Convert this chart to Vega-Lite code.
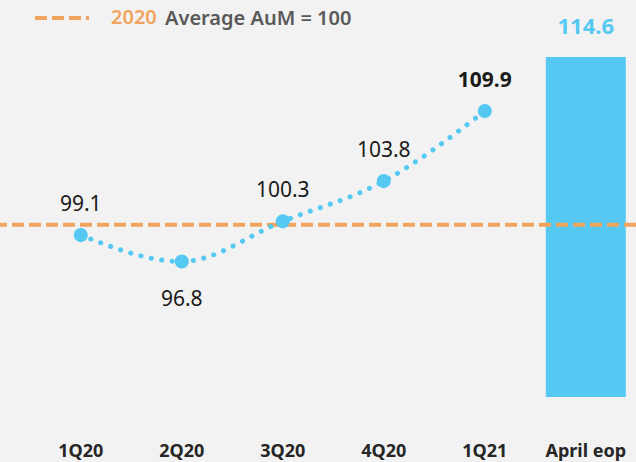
{
  "$schema": "https://vega.github.io/schema/vega-lite/v6.json",
  "width": 636,
  "height": 420,
  "autosize": {"type": "none"},
  "padding": {"left": 0, "top": 0, "right": 0, "bottom": 42},
  "background": "#f2f2f2",
  "config": {"view": {"stroke": null}, "font": "Noto Sans"},
  "datasets": {
    "aum": [
      {"period": "1Q20", "value": 99.1, "kind": "quarter"},
      {"period": "2Q20", "value": 96.8, "kind": "quarter"},
      {"period": "3Q20", "value": 100.3, "kind": "quarter"},
      {"period": "4Q20", "value": 103.8, "kind": "quarter"},
      {"period": "1Q21", "value": 109.9, "kind": "quarter"},
      {"period": "April eop", "value": 114.6, "kind": "eop"}
    ],
    "avg": [{"series": "2020", "value": 100}]
  },
  "layer": [
    {
      "data": {"name": "aum"},
      "transform": [{"filter": "datum.kind === 'eop'"}],
      "mark": {"type": "bar", "color": "#56c9f3"},
      "encoding": {
        "x": {
          "field": "period", "type": "nominal",
          "scale": {"domain": ["1Q20", "2Q20", "3Q20", "4Q20", "1Q21", "April eop"], "paddingInner": 0.208, "paddingOuter": 0.2525, "align": 0.8},
          "axis": {"title": null, "domain": false, "ticks": false, "grid": false, "labelAngle": 0, "labelFontSize": 18, "labelFontWeight": "bold", "labelColor": "#262626", "labelPadding": 22}
        },
        "y": {"field": "value", "type": "quantitative", "scale": {"domain": [83, 119.57], "nice": false, "zero": false}, "axis": null},
        "y2": {"datum": 85}
      }
    },
    {
      "data": {"name": "avg"},
      "mark": {"type": "rule", "strokeDash": [12, 5], "strokeWidth": 4},
      "encoding": {
        "y": {"field": "value", "type": "quantitative", "axis": null},
        "color": {
          "field": "series", "type": "nominal",
          "scale": {"range": ["#f0a45e"]},
          "legend": {
            "title": "Average AuM = 100", "titleOrient": "right", "titleAnchor": "middle", "titleBaseline": "top", "titleLimit": 400,
            "orient": "none", "legendX": 33, "legendY": -11,
            "symbolType": "stroke", "symbolSize": 2916, "symbolStrokeWidth": 4, "symbolDash": [12, 5],
            "labelFontSize": 20, "labelFontWeight": 600, "labelColor": "#f0a45e", "labelOffset": 20,
            "titleFontSize": 20, "titleFontWeight": 600, "titleColor": "#595959", "titlePadding": 8
          }
        }
      }
    },
    {
      "data": {"name": "aum"},
      "transform": [{"filter": "datum.kind === 'quarter'"}],
      "mark": {"type": "line", "interpolate": "monotone", "strokeWidth": 5, "strokeCap": "round", "strokeDash": [0.1, 10.5], "color": "#56c9f3"},
      "encoding": {
        "x": {"field": "period", "type": "nominal"},
        "y": {"field": "value", "type": "quantitative", "axis": null}
      }
    },
    {
      "data": {"name": "aum"},
      "transform": [{"filter": "datum.kind === 'quarter'"}],
      "mark": {"type": "circle", "size": 200, "opacity": 1, "color": "#56c9f3"},
      "encoding": {
        "x": {"field": "period", "type": "nominal"},
        "y": {"field": "value", "type": "quantitative", "axis": null}
      }
    },
    {
      "data": {"name": "aum"},
      "transform": [{"filter": "datum.kind === 'quarter' && datum.period !== '2Q20' && datum.period !== '1Q21'"}],
      "mark": {"type": "text", "baseline": "alphabetic", "dy": -24, "fontSize": 21, "color": "#1a1a1a"},
      "encoding": {
        "x": {"field": "period", "type": "nominal"},
        "y": {"field": "value", "type": "quantitative", "axis": null},
        "text": {"field": "value", "type": "quantitative", "format": ".1f"}
      }
    },
    {
      "data": {"name": "aum"},
      "transform": [{"filter": "datum.period === '1Q21'"}],
      "mark": {"type": "text", "baseline": "alphabetic", "dy": -24, "fontSize": 21, "fontWeight": "bold", "color": "#1a1a1a"},
      "encoding": {
        "x": {"field": "period", "type": "nominal"},
        "y": {"field": "value", "type": "quantitative", "axis": null},
        "text": {"field": "value", "type": "quantitative", "format": ".1f"}
      }
    },
    {
      "data": {"name": "aum"},
      "transform": [{"filter": "datum.period === '2Q20'"}],
      "mark": {"type": "text", "baseline": "alphabetic", "dy": 44, "fontSize": 21, "color": "#1a1a1a"},
      "encoding": {
        "x": {"field": "period", "type": "nominal"},
        "y": {"field": "value", "type": "quantitative", "axis": null},
        "text": {"field": "value", "type": "quantitative", "format": ".1f"}
      }
    },
    {
      "data": {"name": "aum"},
      "transform": [{"filter": "datum.kind === 'eop'"}],
      "mark": {"type": "text", "baseline": "alphabetic", "dy": -23, "fontSize": 22, "fontWeight": "bold", "color": "#56c9f3"},
      "encoding": {
        "x": {"field": "period", "type": "nominal"},
        "y": {"field": "value", "type": "quantitative", "axis": null},
        "text": {"field": "value", "type": "quantitative", "format": ".1f"}
      }
    }
  ]
}
